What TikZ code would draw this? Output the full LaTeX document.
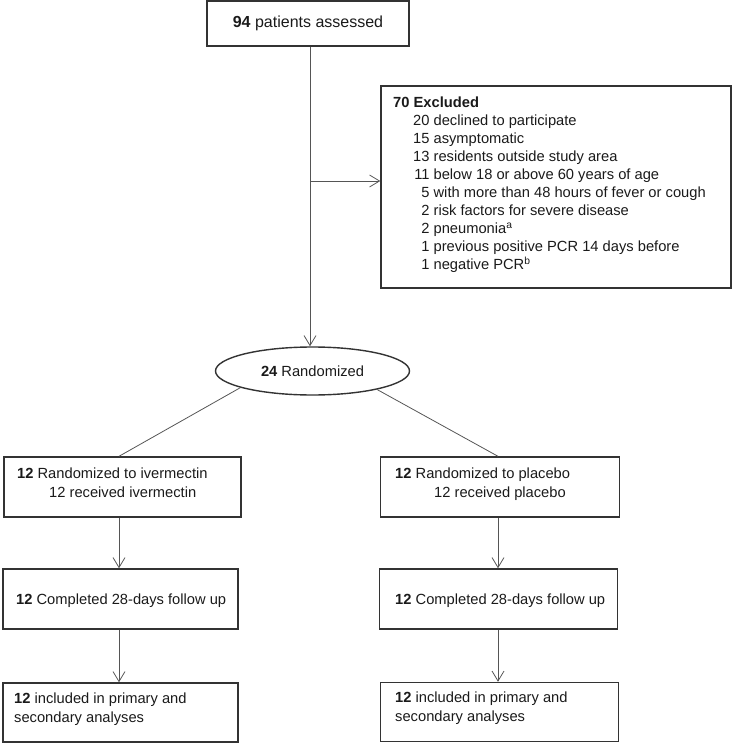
\documentclass[tikz,border=0pt]{standalone}
\usepackage{fontspec}
\setmainfont{Liberation Sans}
\usetikzlibrary{arrows.meta,shapes.geometric,calc}
\definecolor{ln}{HTML}{333333}
\definecolor{cn}{HTML}{555555}
\definecolor{tx}{HTML}{1a1a1a}
\begin{document}
\begin{tikzpicture}[x=1pt,y=-1pt,
  box/.style={draw=ln,line width=1.4pt,inner sep=0pt,rectangle},
  txt/.style={anchor=base west,inner sep=0pt,text=tx,font=\fontsize{14.7}{18}\selectfont},
  conn/.style={draw=cn,line width=0.8pt},
  arr/.style={conn,-{Straight Barb[length=10pt,width=12pt,line width=0.8pt]}}]
\useasboundingbox (0,0) rectangle (733,743);

% boxes
\node[box,minimum width=202pt,minimum height=45pt,text=tx,font=\fontsize{16}{19}\selectfont] (top) at (308,23.5) {\textbf{94} patients assessed};
\node[box,minimum width=350pt,minimum height=202pt] (excl) at (556,187) {};
\node[draw=ln,line width=1.4pt,ellipse,inner sep=0pt,minimum width=194pt,minimum height=48pt,text=tx,font=\fontsize{14.7}{18}\selectfont] (ell) at (312.5,371) {\textbf{24} Randomized};
\node[box,minimum width=237pt,minimum height=60pt] (L1) at (122.5,487) {};
\node[box,minimum width=239pt,minimum height=60pt] (R1) at (500,487) {};
\node[box,minimum width=235pt,minimum height=60pt] (L2) at (120.5,599) {};
\node[box,minimum width=238pt,minimum height=60pt] (R2) at (498.5,599) {};
\node[box,minimum width=235pt,minimum height=59pt] (L3) at (120.5,712.5) {};
\node[box,minimum width=238pt,minimum height=59pt] (R3) at (499.5,712) {};

% texts
\node[txt] (exclt) at (393,107.5) {\begin{tabular}[t]{@{\hspace{20pt}}r@{\ }l@{}}
\multicolumn{2}{@{}l@{}}{\textbf{70 Excluded}}\\
20 & declined to participate\\
15 & asymptomatic\\
13 & residents outside study area\\
11 & below 18 or above 60 years of age\\
5 & with more than 48 hours of fever or cough\\
2 & risk factors for severe disease\\
2 & pneumonia\textsuperscript{a}\\
1 & previous positive PCR 14 days before\\
1 & negative PCR\textsuperscript{b}
\end{tabular}};
\node[txt] (l1a) at (17,478) {\textbf{12} Randomized to ivermectin};
\node[txt] (l1b) at (49,497) {12 received ivermectin};
\node[txt] (r1a) at (395,478) {\textbf{12} Randomized to placebo};
\node[txt] (r1b) at (434,497) {12 received placebo};
\node[txt] (l2t) at (16,604) {\textbf{12} Completed 28-days follow up};
\node[txt] (r2t) at (395,604) {\textbf{12} Completed 28-days follow up};
\node[txt] (l3a) at (14,703) {\textbf{12} included in primary and};
\node[txt] (l3b) at (14,722) {secondary analyses};
\node[txt] (r3a) at (395,702) {\textbf{12} included in primary and};
\node[txt] (r3b) at (395,721) {secondary analyses};

% connectors
\coordinate (j) at (310,181);
\coordinate (cl) at (119,0);
\coordinate (cr) at (498,0);
\draw[arr] (j |- top.south) -- (j |- ell.north);
\draw[arr] (j) -- (j -| excl.west);
\draw[conn] (ell.193) -- (L1.north -| cl);
\draw[conn] (ell.344) -- (R1.north -| cr);
\draw[arr] (L1.south -| cl) -- (L2.north -| cl);
\draw[arr] (L2.south -| cl) -- (L3.north -| cl);
\draw[arr] (R1.south -| cr) -- (R2.north -| cr);
\draw[arr] (R2.south -| cr) -- (R3.north -| cr);
\end{tikzpicture}
\end{document}
